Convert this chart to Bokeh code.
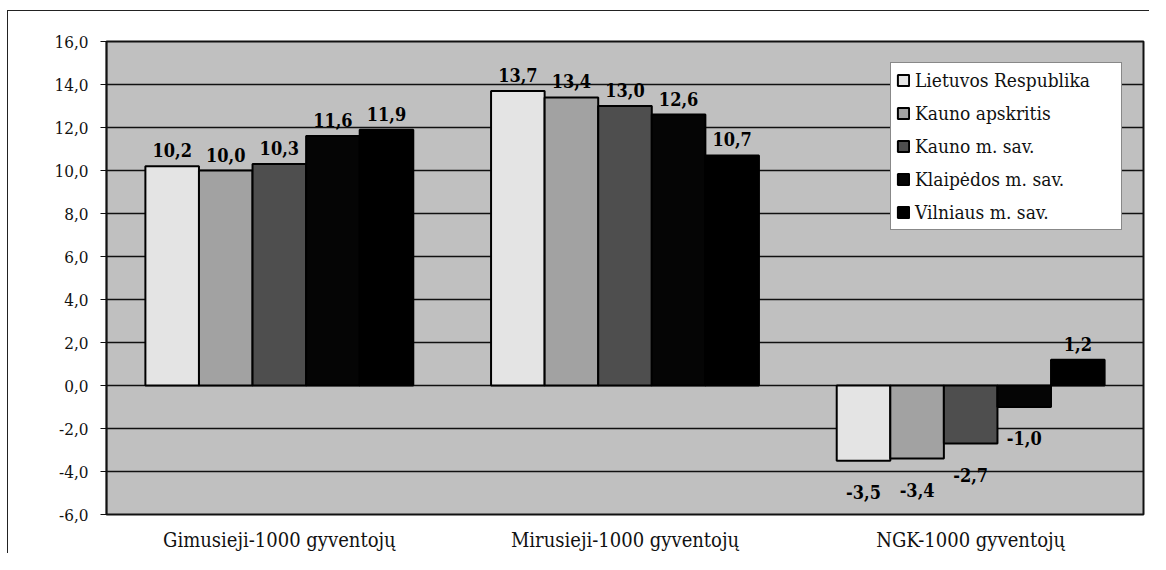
from bokeh.plotting import figure
from bokeh.models import ColumnDataSource, Range1d, FactorRange, FixedTicker, Legend, LegendItem
from bokeh.transform import dodge
from bokeh.core.properties import value
from bokeh.embed import file_html
from bokeh.resources import INLINE

categories = ["Gimusieji-1000 gyventojų", "Mirusieji-1000 gyventojų", "NGK-1000 gyventojų"]
series_names = ["Lietuvos Respublika", "Kauno apskritis", "Kauno m. sav.",
                "Klaipėdos m. sav.", "Vilniaus m. sav."]
lietuvos = [10.2, 13.7, -3.5]
kauno_apskritis = [10.0, 13.4, -3.4]
kauno_m = [10.3, 13.0, -2.7]
klaipedos_m = [11.6, 12.6, -1.0]
vilniaus_m = [11.9, 10.7, 1.2]
y_ticks = [-6, -4, -2, 0, 2, 4, 6, 8, 10, 12, 14, 16]
y_tick_labels = ["-6,0", "-4,0", "-2,0", "0,0", "2,0", "4,0", "6,0", "8,0",
                 "10,0", "12,0", "14,0", "16,0"]

series_values = [lietuvos, kauno_apskritis, kauno_m, klaipedos_m, vilniaus_m]
fills = ["#e4e4e4", "#a2a2a2", "#4e4e4e", "#050505", "#000000"]

SERIF_C = "DejaVu Serif Condensed"
BAR_W = 0.155

p = figure(x_range=FactorRange(*categories), y_range=Range1d(-6, 16),
           width=1142, height=543, output_backend="svg", toolbar_location=None,
           min_border_left=98, min_border_right=7, min_border_top=30, min_border_bottom=31)
p.styles = {"margin-left": "7px", "margin-top": "10px",
            "border-left": "1px solid #222", "border-top": "1px solid #222"}
p.background_fill_color = "#c0c0c0"
p.border_fill_color = "white"
p.outline_line_color = "#111111"
p.outline_line_width = 2

p.xgrid.grid_line_color = None
p.ygrid.grid_line_color = "#111111"
p.ygrid.grid_line_width = 1.5
p.ygrid.ticker = FixedTicker(ticks=y_ticks)

p.yaxis.ticker = FixedTicker(ticks=y_ticks)
p.yaxis.major_label_overrides = {t: l for t, l in zip(y_ticks, y_tick_labels)}
p.yaxis.minor_tick_line_color = None
p.yaxis.major_tick_out = 6
p.yaxis.major_tick_in = 0
p.yaxis.major_tick_line_color = "#111111"
p.yaxis.axis_line_color = "#111111"
p.yaxis.axis_line_width = 1.5
p.yaxis.major_label_standoff = 12
p.yaxis.major_label_text_font = SERIF_C
p.yaxis.major_label_text_font_size = "17px"
p.yaxis.major_label_text_color = "#111111"

p.xaxis.major_tick_line_color = None
p.xaxis.minor_tick_line_color = None
p.xaxis.axis_line_color = "#111111"
p.xaxis.major_label_standoff = 7
p.xaxis.major_label_text_font = SERIF_C
p.xaxis.major_label_text_font_size = "20px"
p.xaxis.major_label_text_color = "#111111"

items = []
for i, (name, vals, col) in enumerate(zip(series_names, series_values, fills)):
    src = ColumnDataSource(dict(
        cat=categories,
        val=vals,
        lab=[f"{v:.1f}".replace(".", ",") for v in vals],
        off=[-16 if v >= 0 else 31 for v in vals],
    ))
    xd = dodge("cat", (i - 2) * BAR_W, range=p.x_range)
    r = p.vbar(x=xd, top="val", bottom=0, width=BAR_W, source=src,
               fill_color=col, line_color="#000000", line_width=2)
    p.text(x=xd, y="val", text="lab", source=src, y_offset="off",
           text_align="center", text_baseline="alphabetic",
           text_font=value(SERIF_C), text_font_style="bold",
           text_font_size="18px", text_color="#000000")
    items.append(LegendItem(label=name, renderers=[r]))

legend = Legend(items=items, location="top_right")
legend.margin = 21
legend.padding = 5
legend.spacing = 9
legend.glyph_width = 14
legend.glyph_height = 14
legend.label_height = 24
legend.label_width = 201
legend.label_standoff = 5
legend.label_text_font = SERIF_C
legend.label_text_font_size = "19px"
legend.label_text_color = "#111111"
legend.border_line_color = "#111111"
legend.border_line_width = 1.5
legend.background_fill_color = "white"
legend.background_fill_alpha = 1.0
p.add_layout(legend)

open("out.html", "w").write(file_html(p, INLINE))
